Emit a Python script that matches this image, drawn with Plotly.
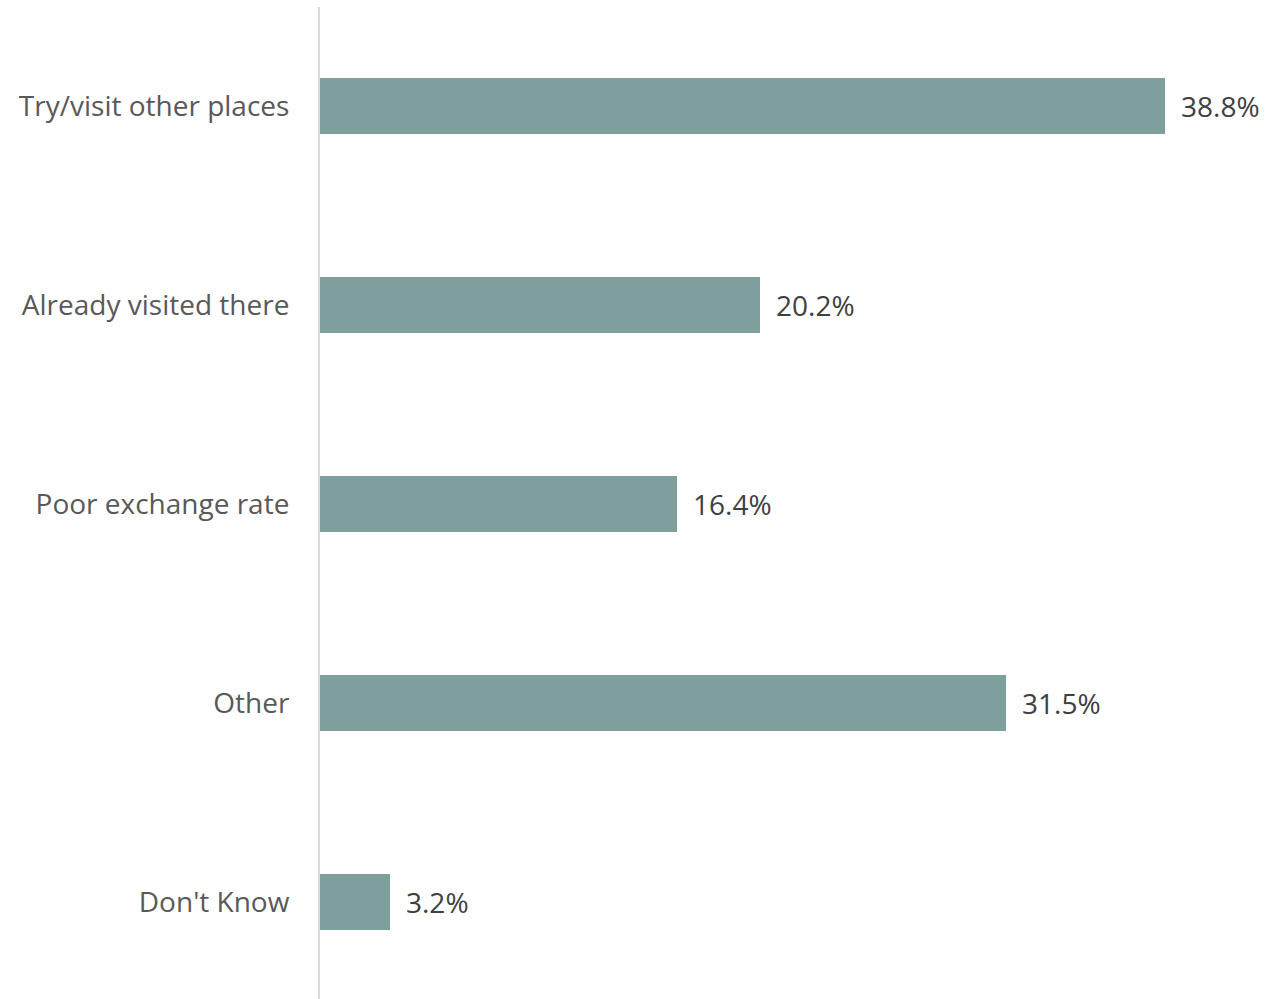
import plotly.graph_objects as go

categories = ["Try/visit other places", "Already visited there", "Poor exchange rate", "Other", "Don't Know"]
values = [38.8, 20.2, 16.4, 31.5, 3.2]
labels = ["38.8%", "20.2%", "16.4%", "31.5%", "3.2%"]

BAR_COLOR = "#7f9f9c"
FONT = "Open Sans"

fig = go.Figure(
    go.Bar(
        x=values,
        y=categories,
        orientation="h",
        marker=dict(color=BAR_COLOR, line=dict(width=0)),
        width=0.286,
        hoverinfo="skip",
    )
)

for cat, val, lab in zip(categories, values, labels):
    fig.add_annotation(
        x=val, y=cat, text=lab, showarrow=False,
        xanchor="left", yanchor="middle", xshift=14,
        font=dict(family=FONT, size=28, color="#404040"),
    )

fig.update_layout(
    width=1276, height=999,
    margin=dict(l=320, r=20, t=7, b=0),
    paper_bgcolor="white", plot_bgcolor="white",
    showlegend=False,
    font=dict(family=FONT, size=28, color="#595959"),
    bargap=0,
)
fig.update_xaxes(range=[0, 43], showticklabels=False, showgrid=False, zeroline=False, showline=False)
fig.update_yaxes(
    range=[4.4875, -0.4975], showgrid=False, zeroline=False,
    showline=True, linecolor="#d9d9d9", linewidth=2,
    ticks="", ticklabelstandoff=23,
    tickfont=dict(family=FONT, size=28, color="#595959"),
)

fig.write_html("out.html")
